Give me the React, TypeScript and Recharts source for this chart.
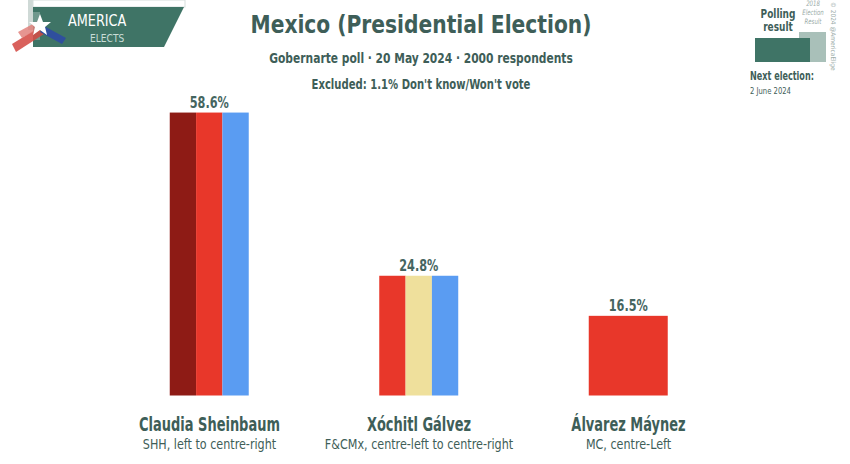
import { BarChart, Bar, XAxis, YAxis, LabelList } from 'recharts';

const candidates = ['Claudia Sheinbaum', 'Xóchitl Gálvez', 'Álvarez Máynez'];
const parties = [
  'SHH, left to centre-right',
  'F&CMx, centre-left to centre-right',
  'MC, centre-Left',
];
const shares = [58.6, 24.8, 16.5];
// each bar is split in three vertical stripes, one per coalition party colour
const stripeColors = [
  ['#8E1B15', '#E8372A', '#5A9CF2'],
  ['#E8372A', '#EFE09C', '#5A9CF2'],
  ['#E8372A', '#E8372A', '#E8372A'],
];

const TEXT = '#3E5E58';
const FONT = '"DejaVu Sans Condensed", "DejaVu Sans", sans-serif';
const STRIPES = ['s1', 's2', 's3'];

const data = candidates.map((name, i) => ({
  name,
  s1: shares[i],
  s2: shares[i],
  s3: shares[i],
}));

// text squeezed horizontally, the original uses a narrow rounded font
function NText({ x, y, sx = 0.85, size, bold = false, anchor = 'middle', fill = TEXT, italic = false, children }: any) {
  return (
    <text
      transform={`translate(${x},${y}) scale(${sx},1)`}
      textAnchor={anchor}
      fill={fill}
      fontFamily={FONT}
      fontWeight={bold ? 'bold' : 'normal'}
      fontStyle={italic ? 'italic' : 'normal'}
      fontSize={size}
    >
      {children}
    </text>
  );
}

function CandidateTick(props: any) {
  const { x, y, payload, index } = props;
  return (
    <g>
      <NText x={x} y={y + 27} sx={0.76} size={19} bold>
        {payload.value}
      </NText>
      <NText x={x} y={y + 45} sx={0.92} size={13.5}>
        {parties[index]}
      </NText>
    </g>
  );
}

// a single-colour bar is drawn as one block instead of three stripes
const stripeShape = (j: number) => (props: any) => {
  const { x, y, width, height, index } = props;
  const cols = stripeColors[index];
  const merged = cols.every((c) => c === cols[0]);
  if (merged && j > 0) return <g />;
  return (
    <rect
      x={x}
      y={y}
      width={merged ? width * cols.length : width}
      height={height}
      fill={cols[j]}
    />
  );
};

function ValueLabel(props: any) {
  const { x, y, width, value } = props;
  return (
    <NText x={x + width / 2} y={y - 5} sx={0.76} size={16.5} bold fill="#456560">
      {`${value}%`}
    </NText>
  );
}

function Header() {
  return (
    <svg
      width={850}
      height={464}
      style={{ position: 'absolute', left: 0, top: 0, pointerEvents: 'none' }}
    >
      {/* logo */}
      <rect x={28} y={0} width={5} height={30} fill="#cfd9d6" />
      <rect x={33} y={0} width={152} height={7} fill="#fff" stroke="#d6dedc" />
      <polygon points="33,7 184,7 164,47 33,47" fill="#3F7466" />
      <rect x={33} y={12} width={7} height={28} fill="#6f988d" />
      <polygon points="12,44 38,28 44,34 16,52" fill="#d2453f" opacity={0.85} />
      <polygon points="18,32 40,20 44,26 22,38" fill="#e07a76" opacity={0.8} />
      <polygon points="44,26 66,38 62,44 40,32" fill="#2f4f9e" />
      <polygon points="40,14 43,22 51,22 45,27 47,35 40,30 33,35 35,27 29,22 37,22" fill="#fff" />
      <NText x={68} y={26} sx={0.92} size={15.5} anchor="start" fill="#fff">
        AMERICA
      </NText>
      <NText x={90} y={42} sx={0.92} size={11} anchor="start" fill="#c9ddd7">
        ELECTS
      </NText>

      {/* title */}
      <NText x={421} y={33} sx={0.9} size={25} bold>
        Mexico (Presidential Election)
      </NText>
      <NText x={421} y={63} sx={0.85} size={14} bold>
        Gobernarte poll · 20 May 2024 · 2000 respondents
      </NText>
      <NText x={421} y={89} sx={0.8} size={14} bold>
        Excluded: 1.1% Don't know/Won't vote
      </NText>

      {/* legend */}
      <rect x={799} y={32} width={27} height={30} fill="#a9c0b9" />
      <rect x={755} y={38} width={55} height={24} fill="#3F7466" />
      <NText x={778} y={18} sx={0.8} size={12.5} bold>
        Polling
      </NText>
      <NText x={778} y={31} sx={0.8} size={12.5} bold>
        result
      </NText>
      <NText x={813} y={6} sx={0.8} size={7.5} italic fill="#9aaba7">
        2018
      </NText>
      <NText x={813} y={15} sx={0.8} size={7.5} italic fill="#9aaba7">
        Election
      </NText>
      <NText x={813} y={24} sx={0.8} size={7.5} italic fill="#9aaba7">
        Result
      </NText>
      <text
        transform="translate(831,2) rotate(90)"
        fill="#9aaba7"
        fontFamily={FONT}
        fontSize={6.5}
      >
        © 2024 @AmericaElige
      </text>
      <NText x={750} y={80} sx={0.75} size={12} bold anchor="start">
        Next election:
      </NText>
      <NText x={750} y={94} sx={0.8} size={9.5} anchor="start">
        2 June 2024
      </NText>
    </svg>
  );
}

export default function App() {
  return (
    <div style={{ position: 'relative', width: 850, height: 464, background: '#fff' }}>
      <style>{'body{margin:0}'}</style>
      <BarChart
        width={850}
        height={464}
        data={data}
        margin={{ top: 105.8, right: 116.75, bottom: 0, left: 104.75 }}
        barGap={0}
        barSize={26.33}
      >
        <XAxis
          dataKey="name"
          axisLine={false}
          tickLine={false}
          height={68.5}
          interval={0}
          tick={<CandidateTick />}
        />
        <YAxis hide domain={[0, 60]} />
        {STRIPES.map((key, j) => (
          <Bar key={key} dataKey={key} isAnimationActive={false} shape={stripeShape(j)}>
            {j === 1 && <LabelList dataKey="s2" content={<ValueLabel />} />}
          </Bar>
        ))}
      </BarChart>
      <Header />
    </div>
  );
}
